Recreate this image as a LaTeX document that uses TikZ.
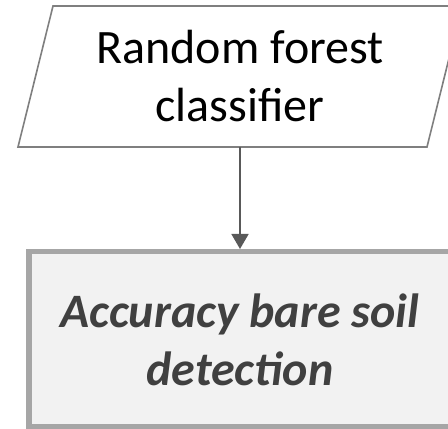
\documentclass[tikz,border=0pt]{standalone}
\usepackage{fontspec}
\setmainfont{Carlito}
\usetikzlibrary{arrows.meta, positioning}
\definecolor{framegray}{HTML}{7F7F7F}
\definecolor{arrowgray}{HTML}{595959}
\definecolor{boxline}{HTML}{A6A6A6}
\definecolor{boxfill}{HTML}{F2F2F2}
\definecolor{boxtext}{HTML}{404040}

\begin{document}
\begin{tikzpicture}[x=1pt, y=1pt,
      model/.style={rectangle, minimum width=409pt, minimum height=141pt,
        inner sep=0pt, outer sep=0pt, align=center,
        font=\fontsize{48}{58}\selectfont},
      frame/.style={draw=framegray, line width=1.6pt, line join=miter},
      result/.style={rectangle, draw=boxline, fill=boxfill, line width=5.5pt,
        minimum width=422.5pt, minimum height=175.5pt, inner sep=0pt,
        align=center, text=boxtext,
        font=\fontsize{48}{58}\selectfont\bfseries\itshape},
      flow/.style={draw=arrowgray, line width=1.6pt,
        -{Triangle[width=17pt, length=15pt]}}
    ]
      \useasboundingbox (0,0) rectangle (448,429);
      \clip (0,0) rectangle (448,429);

      \node[model] (rf) at (240,352.5) {Random forest\\classifier};
      \draw[frame] ([xshift=-17.5pt]rf.south west) -- ([xshift=-17.5pt]rf.south east)
        -- ([xshift=17.5pt]rf.north east) -- ([xshift=17.5pt]rf.north west) -- cycle;

      \node[result] (acc) at (240,89.5) {Accuracy bare soil\\detection};

      \draw[flow] (rf.south) -- (acc.north);
    \end{tikzpicture}
\end{document}
